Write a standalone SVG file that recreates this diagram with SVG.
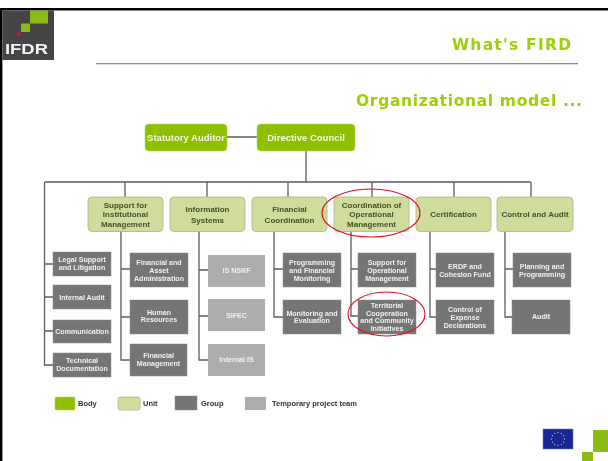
<svg xmlns="http://www.w3.org/2000/svg" width="608" height="461" viewBox="0 0 608 461">
<style>
text{font-family:"Liberation Sans",Arial,sans-serif;font-weight:bold;text-anchor:middle}
.body{fill:#8fc000;stroke:#b5d65c;stroke-width:.6}
.unit{fill:#cfdc9c;stroke:#a9b58a;stroke-width:.8}
.group{fill:#757575;stroke:#8c8c8c;stroke-width:.5}
.temp{fill:#adadad}
.c{fill:none;stroke:#5c5c62;stroke-width:1.3}
.tb{fill:#f4f8e4;font-size:9.5px}
.tu{fill:#46512c;font-size:8px}
.tg{fill:#f0f0f0;font-size:7.1px}
.tl{fill:#333;font-size:7.5px;text-anchor:start}
.ring{fill:none;stroke:#e01020;stroke-width:1.100}
.star{fill:#c9bd50}
.title{font-family:"DejaVu Sans",Verdana,sans-serif;fill:#9ccf0a}
</style>
<defs><filter id="soft" x="0" y="0" width="100%" height="100%"><feGaussianBlur stdDeviation="0.35"/></filter></defs>
<rect width="608" height="461" fill="#fff"/>
<g filter="url(#soft)">
<g id="frame">
<rect x="0" y="8" width="608" height="2.500" fill="#000"/>
<rect x="0" y="8" width="2.400" height="453" fill="#000"/>
</g>
<g id="logo">
<rect x="2.400" y="10.500" width="51.600" height="49.500" fill="#454545"/>
<rect x="30" y="10.500" width="18" height="13" fill="#8dbb12"/>
<rect x="21" y="23.500" width="9" height="8.500" fill="#8dbb12"/>
<circle cx="19" cy="34" r="2" fill="#c0202a"/>
<text x="26.500" y="54" font-size="15.500" fill="#f2f2f2" textLength="43" lengthAdjust="spacingAndGlyphs">IFDR</text>
</g>
<g id="header">
<rect x="96" y="63" width="482" height="1.300" fill="#8a8a8a"/>
<text class="title" x="511.500" y="50" font-size="15.500" textLength="119" lengthAdjust="spacing">What's FIRD</text>
<text class="title" x="469" y="105.500" font-size="15.500" textLength="226" lengthAdjust="spacing">Organizational model ...</text>
</g>
<g id="connectors">
<path class="c" d="M227 137H257M306 151V182M44.500 182H531M125 182V197M207 182V197M288 182V197M372 182V197M454 182V197M531 182V197"/>
<path class="c" d="M44.500 182V365H53M44.500 264H53M44.500 297H53M44.500 331H53"/>
<path class="c" d="M121 231V360H130M121 269H130M121 317H130"/>
<path class="c" d="M199 231V360H208M199 270H208M199 316H208"/>
<path class="c" d="M274 231V317H283M274 269H283"/>
<path class="c" d="M351 231V316H358M351 269H358"/>
<path class="c" d="M430 231V317H436M430 269H436"/>
<path class="c" d="M505 231V317H512M505 269H513"/>
</g>
<g id="statutory-auditor"><rect class="body" x="145" y="124" width="82" height="27" rx="4"/><text class="tb" x="186" y="141">Statutory Auditor</text></g>
<g id="directive-council"><rect class="body" x="257" y="124" width="98" height="27" rx="4"/><text class="tb" x="306" y="141">Directive Council</text></g>
<g id="support-institutional"><rect class="unit" x="88" y="197" width="75" height="34.500" rx="4"/><text class="tu" x="125.500" y="207.500">Support for</text><text class="tu" x="125.500" y="217">Institutional</text><text class="tu" x="125.500" y="227">Management</text></g>
<g id="information-systems"><rect class="unit" x="170" y="197" width="75" height="34.500" rx="4"/><text class="tu" x="207.500" y="212">Information</text><text class="tu" x="207.500" y="222.500">Systems</text></g>
<g id="financial-coordination"><rect class="unit" x="252" y="197" width="75" height="34.500" rx="4"/><text class="tu" x="289.500" y="212">Financial</text><text class="tu" x="289.500" y="222.500">Coordination</text></g>
<g id="coordination-operational"><rect class="unit" x="334" y="197" width="75" height="34.500" rx="4"/><text class="tu" x="371.500" y="207.500">Coordination of</text><text class="tu" x="371.500" y="217">Operational</text><text class="tu" x="371.500" y="227">Management</text></g>
<g id="certification"><rect class="unit" x="416" y="197" width="75" height="34.500" rx="4"/><text class="tu" x="453.500" y="217">Certification</text></g>
<g id="control-audit"><rect class="unit" x="497" y="197" width="76" height="34.500" rx="4"/><text class="tu" x="535" y="217">Control and Audit</text></g>
<g id="legal-support"><rect class="group" x="53" y="252" width="58" height="24"/><text class="tg" x="82" y="262">Legal Support</text><text class="tg" x="82" y="270">and Litigation</text></g>
<g id="internal-audit"><rect class="group" x="53" y="285" width="58" height="24"/><text class="tg" x="82" y="299.500">Internal Audit</text></g>
<g id="communication"><rect class="group" x="53" y="320" width="58" height="23"/><text class="tg" x="82" y="334">Communication</text></g>
<g id="technical-documentation"><rect class="group" x="53" y="353" width="58" height="24"/><text class="tg" x="82" y="363">Technical</text><text class="tg" x="82" y="371">Documentation</text></g>
<g id="financial-asset"><rect class="group" x="130" y="253" width="58" height="34"/><text class="tg" x="159" y="265">Financial and</text><text class="tg" x="159" y="273">Asset</text><text class="tg" x="159" y="281">Administration</text></g>
<g id="human-resources"><rect class="group" x="130" y="300" width="58" height="34"/><text class="tg" x="159" y="315">Human</text><text class="tg" x="159" y="322">Resources</text></g>
<g id="financial-management"><rect class="group" x="130" y="344" width="57" height="32"/><text class="tg" x="158.500" y="358">Financial</text><text class="tg" x="158.500" y="366">Management</text></g>
<g id="is-nsrf"><rect class="temp" x="208" y="255" width="57" height="32"/><text class="tg" x="236.500" y="273">IS NSRF</text></g>
<g id="sifec"><rect class="temp" x="208" y="299" width="57" height="32"/><text class="tg" x="236.500" y="318">SIFEC</text></g>
<g id="internal-is"><rect class="temp" x="208" y="344" width="57" height="32"/><text class="tg" x="236.500" y="362">Internal IS</text></g>
<g id="programming-monitoring"><rect class="group" x="283" y="253" width="58" height="34"/><text class="tg" x="312" y="265">Programming</text><text class="tg" x="312" y="273">and Financial</text><text class="tg" x="312" y="281">Monitoring</text></g>
<g id="monitoring-evaluation"><rect class="group" x="283" y="300" width="58" height="34"/><text class="tg" x="312" y="316">Monitoring and</text><text class="tg" x="312" y="323">Evaluation</text></g>
<g id="support-operational"><rect class="group" x="358" y="253" width="58" height="34"/><text class="tg" x="387" y="265">Support for</text><text class="tg" x="387" y="273">Operational</text><text class="tg" x="387" y="281">Management</text></g>
<g id="territorial"><rect class="group" x="358" y="300" width="58" height="34"/><text class="tg" x="387" y="308">Territorial</text><text class="tg" x="387" y="315.500">Cooperation</text><text class="tg" x="387" y="322.500">and Community</text><text class="tg" x="387" y="330.500">Initiatives</text></g>
<g id="erdf"><rect class="group" x="436" y="253" width="58" height="34"/><text class="tg" x="465" y="269">ERDF and</text><text class="tg" x="465" y="276.500">Cohesion Fund</text></g>
<g id="control-expense"><rect class="group" x="436" y="300" width="58" height="34"/><text class="tg" x="465" y="312">Control of</text><text class="tg" x="465" y="320">Expense</text><text class="tg" x="465" y="327.500">Declarations</text></g>
<g id="planning"><rect class="group" x="513" y="253" width="58" height="34"/><text class="tg" x="542" y="269">Planning and</text><text class="tg" x="542" y="277">Programming</text></g>
<g id="audit"><rect class="group" x="512" y="300" width="58" height="34"/><text class="tg" x="541" y="319">Audit</text></g>
<g id="highlights">
<ellipse class="ring" cx="371" cy="213" rx="49" ry="24"/>
<ellipse class="ring" cx="386.500" cy="314" rx="38.500" ry="22"/>
</g>
<g id="legend">
<rect class="body" x="55" y="397" width="20" height="13" rx="1.500"/><text class="tl" x="78" y="406">Body</text>
<rect class="unit" x="118" y="397" width="22" height="13" rx="2"/><text class="tl" x="143" y="406">Unit</text>
<rect class="group" x="175" y="396" width="22" height="14"/><text class="tl" x="201" y="406">Group</text>
<rect class="temp" x="245" y="397" width="21" height="13"/><text class="tl" x="272" y="406">Temporary project team</text>
</g>
<g id="eu-flag">
<rect x="543" y="429" width="30" height="20" fill="#14279a" stroke="#6f7fb5" stroke-width=".6"/>
<g class="star"><circle cx="558" cy="432.500" r=".7"/><circle cx="561.300" cy="433.400" r=".7"/><circle cx="563.600" cy="435.700" r=".7"/><circle cx="564.500" cy="439" r=".7"/><circle cx="563.600" cy="442.300" r=".7"/><circle cx="561.300" cy="444.600" r=".7"/><circle cx="558" cy="445.500" r=".7"/><circle cx="554.700" cy="444.600" r=".7"/><circle cx="552.400" cy="442.300" r=".7"/><circle cx="551.500" cy="439" r=".7"/><circle cx="552.400" cy="435.700" r=".7"/><circle cx="554.700" cy="433.400" r=".7"/></g>
</g>
<g id="corner-mark">
<rect x="593" y="430" width="15" height="22" fill="#8dbb12"/>
<rect x="582" y="452" width="11" height="9" fill="#8dbb12"/>
</g>
</g>
</svg>
